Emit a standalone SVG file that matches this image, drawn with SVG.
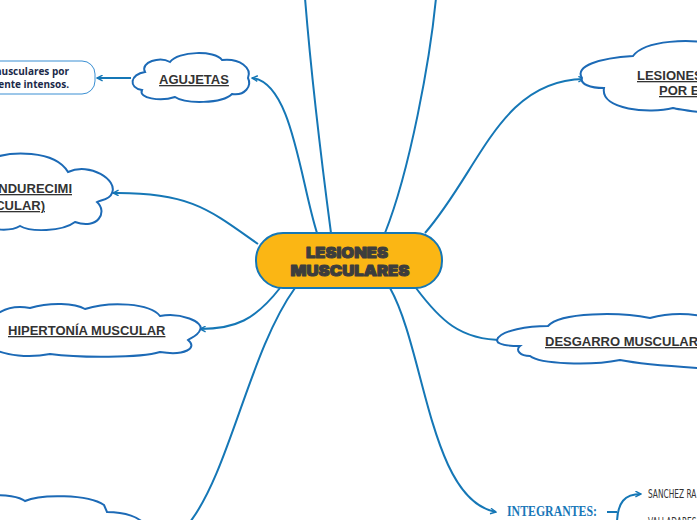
<svg xmlns="http://www.w3.org/2000/svg" width="697" height="520" viewBox="0 0 697 520">
<defs>
<marker id="arr" viewBox="0 0 10 10" refX="9" refY="5" markerWidth="7" markerHeight="7" markerUnits="userSpaceOnUse" orient="auto">
<path d="M1,1 L9,5 L1,9" fill="none" stroke="#1577b6" stroke-width="2" stroke-linejoin="miter"/>
</marker>
<style>
.con{fill:none;stroke:#1577b6;stroke-width:2}
.cloud{fill:#fff;stroke:#1c6ab6;stroke-width:2}
.lbl{font-family:"Liberation Sans",Arial,sans-serif;font-weight:bold;font-size:13px;fill:#333;text-decoration:underline}
.ctr{font-family:Inter,"DejaVu Sans",sans-serif;font-weight:900;font-size:15px;fill:#3d3d3d;stroke:#3d3d3d;stroke-width:1;stroke-linejoin:round}
</style>
</defs>
<rect width="697" height="520" fill="#fff"/>
<g id="connectors">
<path class="con" d="M317 233 C300 180 292 82 252 78" marker-end="url(#arr)"/>
<path class="con" d="M331 233 C320 150 310 60 305 -2"/>
<path class="con" d="M385 233 C410 170 430 60 436 -2"/>
<path class="con" d="M425 233 C480 170 500 80 584 79" marker-end="url(#arr)"/>
<path class="con" d="M258 244 C210 210 190 192 113 193" marker-end="url(#arr)"/>
<path class="con" d="M280 288 C255 320 235 329 200 329" marker-end="url(#arr)"/>
<path class="con" d="M295 288 C250 350 230 470 190 522"/>
<path class="con" d="M390 288 C425 350 430 500 496 512" marker-end="url(#arr)"/>
<path class="con" d="M416 288 C440 320 460 340 503 340" marker-end="url(#arr)"/>
<path class="con" d="M131 78 L97 78" marker-end="url(#arr)"/>
<path class="con" d="M607 512 L617 512"/>
<path class="con" d="M617 524 C617 502 625 494 641 494" marker-end="url(#arr)"/>
</g>
<g id="center">
<rect x="256" y="233" width="186" height="55" rx="27" fill="#fbb614" stroke="#1577b6" stroke-width="2"/>
<text class="ctr" x="347" y="258" text-anchor="middle" textLength="82" lengthAdjust="spacingAndGlyphs">LESIONES</text>
<text class="ctr" x="350" y="276" text-anchor="middle" textLength="119" lengthAdjust="spacingAndGlyphs">MUSCULARES</text>
</g>
<g id="agujetas">
<path class="cloud" d="M145 72 C140 62 160 56 170 62 C178 51 215 50 222 60 C240 58 252 68 248 78 C252 86 245 96 232 94 C222 104 185 104 175 97 C160 102 138 98 142 90 C128 88 130 74 145 72 Z"/>
<text class="lbl" x="194" y="84" text-anchor="middle">AGUJETAS</text>
</g>
<g id="agujetas-def">
<rect x="-30" y="61" width="125" height="33" rx="13" fill="#fff" stroke="#3a8fd3" stroke-width="1"/>
<text x="69" y="75" text-anchor="end" font-family="'Open Sans','DejaVu Sans',sans-serif" font-weight="bold" font-size="10" fill="#1b2a4a">musculares por</text>
<text x="69" y="88" text-anchor="end" font-family="'Open Sans','DejaVu Sans',sans-serif" font-weight="bold" font-size="10" fill="#1b2a4a">ente intensos.</text>
</g>
<g id="lesiones-esfuerzo">
<path class="cloud" d="M582 78 C574 66 600 58 633 56 C645 40 690 38 720 45 L720 115 C700 112 680 110 673 108 C650 114 600 110 604 88 C590 88 580 84 582 78 Z"/>
<text class="lbl" x="637" y="80">LESIONES</text>
<text class="lbl" x="659" y="95">POR E</text>
</g>
<g id="endurecimiento">
<path class="cloud" d="M-12 160 C10 150 55 150 68 172 C90 162 118 180 112 193 C110 200 100 200 97 202 C108 212 98 230 75 222 C62 232 30 232 20 226 C10 232 -10 230 -15 225 Z"/>
<text class="lbl" x="72" y="193" text-anchor="end">ENDURECIMI</text>
<text class="lbl" x="45" y="210" text-anchor="end">CULAR)</text>
</g>
<g id="hipertonia">
<path class="cloud" d="M-8 318 C5 306 20 306 30 308 C50 302 75 303 85 309 C110 301 150 303 160 316 C180 312 205 322 200 330 C198 336 190 338 188 340 C198 348 185 356 160 352 C140 358 80 358 50 354 C30 358 5 356 -8 348 Z"/>
<text class="lbl" x="8" y="335">HIPERTONÍA MUSCULAR</text>
</g>
<g id="desgarro">
<path class="cloud" d="M497 340 C500 330 530 326 548 326 C560 312 620 312 650 318 C680 310 720 315 730 330 L730 370 C700 368 650 366 620 360 C590 366 540 364 530 356 C520 356 515 350 520 346 C505 346 497 344 497 340 Z"/>
<text class="lbl" x="545" y="346">DESGARRO MUSCULAR</text>
</g>
<g id="bottom-left">
<path class="cloud" d="M-10 496 C5 494 20 497 25 501 C40 494 88 494 104 505 L107 512 C125 512 140 517 146 526 L-10 526 Z"/>
</g>
<g id="integrantes">
<text x="507" y="516" font-family="'Liberation Serif','DejaVu Serif',serif" font-weight="bold" font-size="15" fill="#1877b8" textLength="90" lengthAdjust="spacingAndGlyphs">INTEGRANTES:</text>
</g>
<g id="sanchez">
<text transform="translate(648,498) scale(0.62,1)" font-family="'DejaVu Sans',sans-serif" font-size="12" fill="#333">SANCHEZ RA</text>
</g>
<g id="valladares">
<text transform="translate(648,526) scale(0.62,1)" font-family="'DejaVu Sans',sans-serif" font-size="12" fill="#333">VALLADARES</text>
</g>
</svg>
